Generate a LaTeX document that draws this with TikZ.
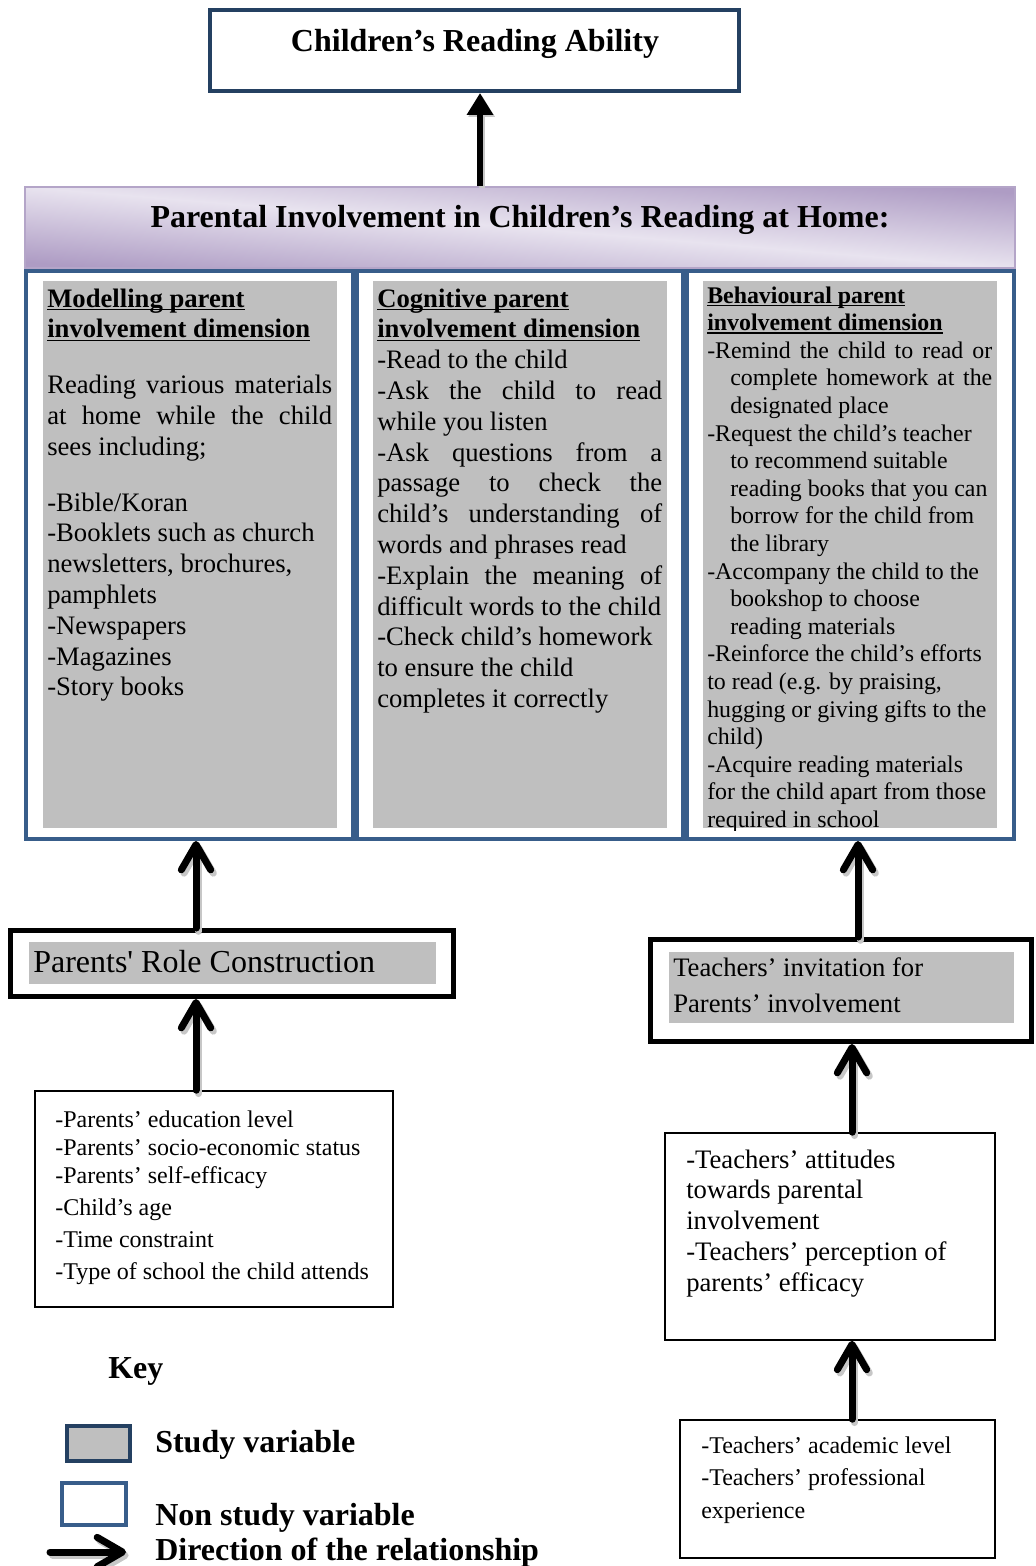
\documentclass[tikz,border=0pt]{standalone}
\usepackage{fontspec}
\setmainfont{Liberation Serif}[Ligatures={TeXOff,NoCommon}]
\usetikzlibrary{arrows.meta,fit}
\definecolor{navyb}{RGB}{36,64,97}
\definecolor{blueb}{RGB}{56,93,138}
\definecolor{grayf}{RGB}{191,191,191}
\definecolor{lav}{RGB}{232,227,239}
\definecolor{purp}{RGB}{174,156,196}
\definecolor{hdrb}{RGB}{180,165,200}
\newcommand\jl[1]{\leavevmode\hbox to 213.75pt{\spaceskip=0.25em plus 1fil\relax #1}}
\newcommand\jlb[1]{\hbox to 196.5pt{\spaceskip=0.25em plus 1fil\relax #1}}
\newcommand\hul[1]{\leavevmode\setbox0\hbox{\bfseries #1}\rlap{\rule[-2.6pt]{\wd0}{1.3pt}}\box0}
\begin{document}
\begin{tikzpicture}[x=0.75pt,y=-0.75pt,
  box/.style={inner sep=0pt},
  colbox/.style={box, draw=blueb, line width=3pt, fill=white},
  grayrect/.style={box, fill=grayf},
  txt/.style={inner sep=0pt, anchor=base west, align=flush left},
  barb/.style={line width=5.25pt, line cap=round, -{Straight Barb[length=19pt,width=22pt,round]}},
  barbsh/.style={barb, draw=black!22, transform canvas={xshift=2pt,yshift=-2.5pt}},
  tri/.style={line width=4.5pt, -{Triangle[length=16.5pt,width=19pt]}},
  trish/.style={tri, draw=black!22, fill=black!22, transform canvas={xshift=1.2pt,yshift=-1.5pt}},
  thinbox/.style={box, draw=black, line width=1.2pt, fill=white},
  thickbox/.style={box, draw=black, line width=3.75pt, fill=white}]
\useasboundingbox (0,0) rectangle (1035,1566);

% x positions of the connectors
\coordinate (ax0) at (480,0);
\coordinate (ax1) at (196,0);
\coordinate (ax3) at (858,0);
\coordinate (ax4) at (852,0);

% title
\node[fit={(210,10)(739,91)}, box, draw=navyb, line width=3pt, fill=white] (title) {};
\node[anchor=base, inner sep=0pt, font=\bfseries\fontsize{24}{28}\selectfont] (titletxt) at (475,52) {Children’s Reading Ability};

% columns
\node[fit={(26,271)(353,839)}, colbox] (col1) {};
\node[fit={(357,271)(683,839)}, colbox] (col2) {};
\node[fit={(687,271)(1014,839)}, colbox] (col3) {};
\node[fit={(43,281)(337,828)}, grayrect] (g1) {};
\node[fit={(373,281)(667,828)}, grayrect] (g2) {};
\node[fit={(703,281)(997,828)}, grayrect] (g3) {};

% header band
\node[fit={(25,187)(1015,268)}, box, draw=hdrb, line width=1.5pt,
      top color=purp, bottom color=purp, middle color=lav, shading angle=-4.7] (header) {};
\node[anchor=base, inner sep=0pt, font=\bfseries\fontsize{24}{28}\selectfont] (headertxt) at (520,227) {Parental Involvement in Children’s Reading at Home:};

% column texts
\node[txt, text width=225pt, font=\fontsize{20}{23.1}\selectfont] (t1) at (47,307) {%
\hul{Modelling parent}\\
\hul{involvement dimension}\\[18.75pt]
\jl{Reading various materials}\\
\jl{at home while the child}\\
sees including;\\[18.75pt]
-Bible/Koran\\
-Booklets such as church\\
newsletters, brochures,\\
pamphlets\\
-Newspapers\\
-Magazines\\
-Story books};

\node[txt, text width=225pt, font=\fontsize{20}{23.1}\selectfont] (t2) at (377,307) {%
\hul{Cognitive parent}\\
\hul{involvement dimension}\\
-Read to the child\\
\jl{-Ask the child to read}\\
while you listen\\
\jl{-Ask questions from a}\\
\jl{passage to check the}\\
\jl{child’s understanding of}\\
words and phrases read\\
\jl{-Explain the meaning of}\\
difficult words to the child\\
-Check child’s homework\\
to ensure the child\\
completes it correctly};

\begin{scope}
\clip (703,281) rectangle (997,830);
\node[txt, text width=225pt, font=\fontsize{17.9}{20.7}\selectfont] (t3) at (707,303) {%
\hul{Behavioural parent}\\
\hul{involvement dimension}\\
\jl{-Remind the child to read or}\\
\hspace*{17.25pt}\jlb{complete homework at the}\\
\hspace*{17.25pt}designated place\\
-Request the child’s teacher\\
\hspace*{17.25pt}to recommend suitable\\
\hspace*{17.25pt}reading books that you can\\
\hspace*{17.25pt}borrow for the child from\\
\hspace*{17.25pt}the library\\
-Accompany the child to the\\
\hspace*{17.25pt}bookshop to choose\\
\hspace*{17.25pt}reading materials\\
-Reinforce the child’s efforts\\
to read (e.g. by praising,\\
hugging or giving gifts to the\\
child)\\
-Acquire reading materials\\
for the child apart from those\\
required in school};
\end{scope}

% parents' role construction
\node[fit={(10.5,930.5)(453.5,996.5)}, thickbox] (role) {};
\node[fit={(29,942)(436,984)}, grayrect] (roleg) {};
\node[txt, font=\fontsize{24}{28}\selectfont] (roletxt) at (33,972) {Parents' Role Construction};

% teachers' invitation
\node[fit={(650.5,939.5)(1031.5,1041.5)}, thickbox] (invite) {};
\node[fit={(669,952)(1014,1023)}, grayrect] (inviteg) {};
\node[txt, text width=250pt, font=\fontsize{20}{27}\selectfont] (invitetxt) at (673,976) {Teachers’ invitation for\\Parents’ involvement};

% factor boxes
\node[fit={(35,1091)(393,1307)}, thinbox] (pfac) {};
\node[txt, text width=255pt, font=\fontsize{18}{21}\selectfont] (pfactxt) at (55,1127) {%
-Parents’ education level\\
-Parents’ socio-economic status\\
-Parents’ self-efficacy\\[3pt]
-Child’s age\\[3pt]
-Time constraint\\[3pt]
-Type of school the child attends};

\node[fit={(665,1133)(995,1340)}, thinbox] (tatt) {};
\node[txt, text width=235pt, font=\fontsize{20}{23.1}\selectfont] (tatttxt) at (686,1168) {%
-Teachers’ attitudes\\
towards parental\\
involvement\\
-Teachers’ perception of\\
parents’ efficacy};

\node[fit={(680,1420)(995,1558)}, thinbox] (tfac) {};
\node[txt, text width=225pt, font=\fontsize{18}{24.6}\selectfont] (tfactxt) at (701,1453) {%
-Teachers’ academic level\\
-Teachers’ professional\\
experience};

% connectors
\draw[trish] (header.north -| ax0) -- (title.south -| ax0);
\draw[tri] (header.north -| ax0) -- (title.south -| ax0);

\draw[barbsh] (role.north -| ax1) -- (col1.south -| ax1);
\draw[barb] (role.north -| ax1) -- (col1.south -| ax1);
\draw[barbsh] (pfac.north -| ax1) -- (role.south -| ax1);
\draw[barb] (pfac.north -| ax1) -- (role.south -| ax1);

\draw[barbsh] (invite.north -| ax3) -- (col3.south -| ax3);
\draw[barb] (invite.north -| ax3) -- (col3.south -| ax3);
\draw[barbsh] (tatt.north -| ax4) -- (invite.south -| ax4);
\draw[barb] (tatt.north -| ax4) -- (invite.south -| ax4);
\draw[barbsh] (tfac.north -| ax4) -- (tatt.south -| ax4);
\draw[barb] (tfac.north -| ax4) -- (tatt.south -| ax4);

% key
\node[txt, font=\bfseries\fontsize{24}{28}\selectfont] (keytxt) at (108,1378) {Key};
\node[fit={(66.5,1425.5)(129.5,1460.5)}, box, draw=navyb, line width=3pt, fill=grayf] (keystudy) {};
\node[txt, font=\bfseries\fontsize{24}{28}\selectfont] (keystudytxt) at (155,1452) {Study variable};
\node[fit={(62,1483)(126,1525)}, box, draw=blueb, line width=3pt, fill=white] (keynon) {};
\node[txt, font=\bfseries\fontsize{24}{28}\selectfont] (keynontxt) at (155,1525) {Non study variable};
\coordinate (ka) at (50,1552);
\coordinate (kb) at (126,1552);
\draw[barbsh] (ka) -- (kb);
\draw[barb] (ka) -- (kb);
\node[txt, font=\bfseries\fontsize{24}{28}\selectfont] (keyarrtxt) at (155,1560) {Direction of the relationship};
\end{tikzpicture}
\end{document}
